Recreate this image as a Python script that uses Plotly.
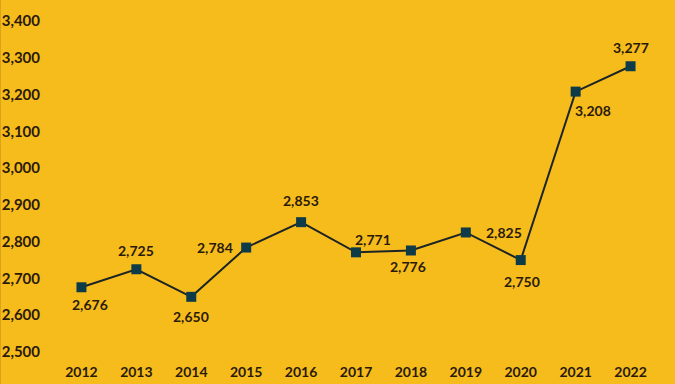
import plotly.graph_objects as go

years = ["2012", "2013", "2014", "2015", "2016", "2017", "2018", "2019", "2020", "2021", "2022"]
values = [2676, 2725, 2650, 2784, 2853, 2771, 2776, 2825, 2750, 3208, 3277]
labels = [f"{v:,}" for v in values]
y_ticks = [2500, 2600, 2700, 2800, 2900, 3000, 3100, 3200, 3300, 3400]

# label offsets in pixels (style)
label_dx = [9, 0, 0, -31, 0, 17, -3, 38, 1, 17, 0]
label_dy = [-17, 19, -20, 0, 22, 13, -16, 0, -21, -19, 19]

bg = "#F6BC1C"
txt = "#2A1A0A"
font = "Lato"

W, H = 675, 384
ML, MR, MT, MB = 54, 17, 21, 32
pw, ph = W - ML - MR, H - MT - MB

fig = go.Figure(go.Scatter(
    x=years, y=values, mode="lines+markers",
    line=dict(color="#1C2426", width=2),
    marker=dict(symbol="square", size=10, color="#0E3B48", line=dict(color="#0E3B48", width=0)),
    cliponaxis=False,
))

for i, (y, t, dx, dy) in enumerate(zip(values, labels, label_dx, label_dy)):
    fig.add_annotation(x=i, y=y, xref="x", yref="y", text=t, showarrow=False,
                       xshift=dx, yshift=dy,
                       font=dict(family=font, size=14, color=txt, weight="bold"))

fig.add_shape(type="line", xref="paper", yref="paper",
              x0=(0.5 - ML) / pw, x1=(0.5 - ML) / pw,
              y0=-MB / ph, y1=1 + MT / ph,
              line=dict(color="#D9A416", width=1))

fig.update_layout(
    width=W, height=H,
    paper_bgcolor=bg, plot_bgcolor=bg,
    margin=dict(l=ML, r=MR, t=MT, b=MB, autoexpand=False),
    showlegend=False,
    font=dict(family=font, color=txt),
    xaxis=dict(type="category", range=[-0.5, len(years) - 0.5], showgrid=False, zeroline=False,
               showline=False, ticks="", tickfont=dict(family=font, size=14, color=txt, weight="bold"),
               ticklabelstandoff=10, automargin=False),
    yaxis=dict(range=[2500, 3400], tickvals=y_ticks, tickformat=",", showgrid=False,
               zeroline=False, showline=False, ticks="",
               tickfont=dict(family=font, size=15, color=txt, weight="bold"),
               ticklabelstandoff=13, automargin=False),
)

fig.write_html("out.html", config={"displayModeBar": False},
               post_script="document.body.style.margin='0';document.body.style.background='" + bg + "';")
